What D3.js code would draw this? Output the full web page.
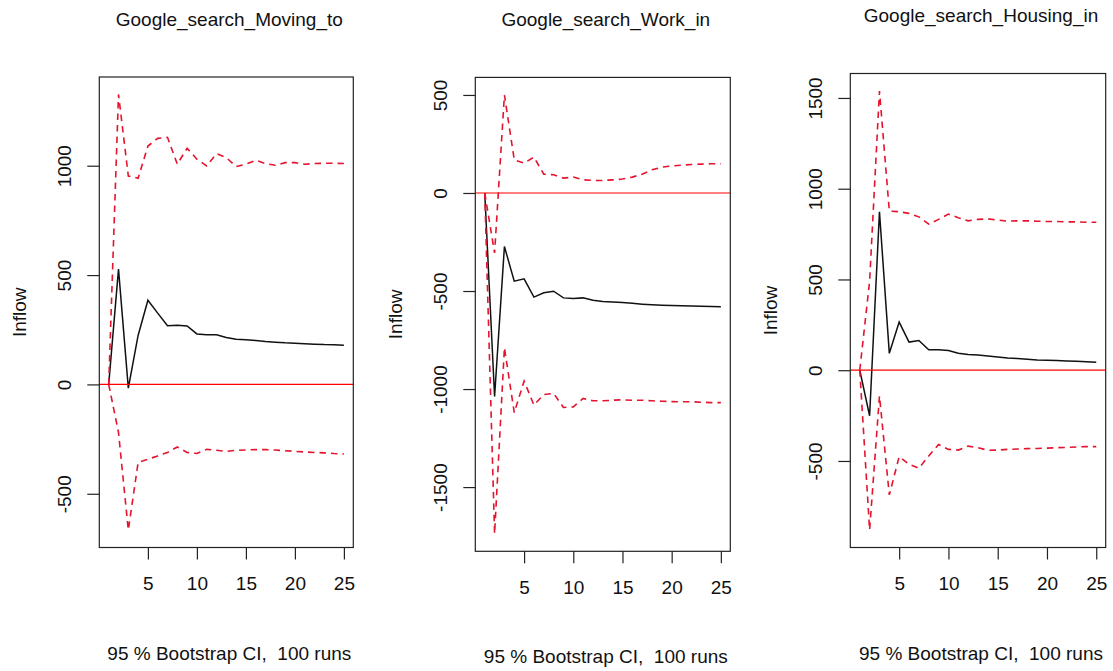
<!DOCTYPE html>
<html>
<head>
<meta charset="utf-8">
<script src="https://cdn.jsdelivr.net/npm/d3@7"></script>
<style>
  body { margin: 0; background: #fff; }
  text { font-family: "Liberation Sans", Arial, sans-serif; fill: #111; }
</style>
</head>
<body>
<div id="chart"></div>
<script>
// horizon steps (x axis)
const horizon = [1, 2, 3, 4, 5, 6, 7, 8, 9, 10, 11, 12, 13, 14, 15, 16, 17, 18, 19, 20, 21, 22, 23, 24, 25];
const xTicks = [5, 10, 15, 20, 25];

const titles = ["Google_search_Moving_to", "Google_search_Work_in", "Google_search_Housing_in"];
const footer = "95 % Bootstrap CI,  100 runs";
const yLabel = "Inflow";

// Moving_to
const movingIrf = [0, 527, -17, 224, 385, 326, 268, 270, 267, 231, 227, 227, 215, 207, 204, 201, 196, 193, 190, 188, 186, 184, 182, 181, 179];
const movingUpper = [0, 1326, 953, 943, 1090, 1125, 1130, 1007, 1080, 1030, 999, 1055, 1037, 996, 1007, 1025, 1010, 1002, 1014, 1014, 1007, 1010, 1011, 1011, 1010];
const movingLower = [0, -220, -666, -357, -342, -327, -311, -286, -311, -316, -297, -301, -306, -301, -300, -298, -298, -300, -303, -306, -309, -311, -313, -316, -318];
const movingTicks = [-500, 0, 500, 1000];

// Work_in
const workIrf = [0, -1038, -273, -450, -438, -531, -509, -501, -535, -538, -535, -547, -553, -556, -559, -563, -567, -570, -572, -574, -575, -577, -578, -579, -580];
const workUpper = [0, -306, 500, 169, 152, 183, 96, 93, 76, 81, 67, 64, 64, 67, 71, 81, 96, 118, 132, 138, 142, 145, 147, 149, 149];
const workLower = [0, -1738, -789, -1120, -959, -1082, -1028, -1022, -1094, -1091, -1048, -1060, -1060, -1057, -1055, -1057, -1057, -1060, -1062, -1064, -1065, -1065, -1067, -1069, -1069];
const workTicks = [-1500, -1000, -500, 0, 500];

// Housing_in
const housingIrf = [0, -251, 873, 93, 265, 155, 164, 113, 113, 109, 93, 87, 84, 78, 73, 67, 64, 60, 56, 55, 53, 51, 49, 47, 44];
const housingUpper = [0, 490, 1538, 877, 873, 864, 845, 805, 831, 860, 840, 823, 831, 834, 827, 821, 823, 823, 821, 819, 819, 817, 817, 815, 815];
const housingLower = [0, -880, -142, -687, -476, -518, -540, -472, -409, -436, -440, -418, -427, -441, -440, -436, -434, -432, -431, -429, -427, -425, -423, -421, -421];
const housingTicks = [-500, 0, 500, 1000, 1500];

// plot boxes of the three panels
const panels = [
  { title: titles[0], irf: movingIrf, upper: movingUpper, lower: movingLower, yTicks: movingTicks,
    left: 99.3, right: 353.3, top: 77, bottom: 547.5 },
  { title: titles[1], irf: workIrf, upper: workUpper, lower: workLower, yTicks: workTicks,
    left: 475.3, right: 730.3, top: 77.4, bottom: 551.3 },
  { title: titles[2], irf: housingIrf, upper: housingUpper, lower: housingLower, yTicks: housingTicks,
    left: 850.3, right: 1105.7, top: 73.5, bottom: 547.5 }
];

const fontSize = 19;
const ciColor = "#e4142e";

// R style 4% axis extension
const pad = ([a, b]) => [a - (b - a) * 0.04, b + (b - a) * 0.04];

const svg = d3.select("#chart").append("svg")
  .attr("width", 1113)
  .attr("height", 671);

function drawPanel(p) {
  const x = d3.scaleLinear().domain(pad(d3.extent(horizon))).range([p.left, p.right]);
  const y = d3.scaleLinear()
    .domain(pad(d3.extent(p.irf.concat(p.upper, p.lower))))
    .range([p.bottom, p.top]);

  const g = svg.append("g");

  const line = d3.line()
    .x((d, i) => x(horizon[i]))
    .y((d) => y(d));

  // impulse response
  g.append("path")
    .attr("d", line(p.irf))
    .attr("fill", "none")
    .attr("stroke", "#111")
    .attr("stroke-width", 1.5);

  // bootstrap bands
  [p.upper, p.lower].forEach((s) => {
    g.append("path")
      .attr("d", line(s))
      .attr("fill", "none")
      .attr("stroke", ciColor)
      .attr("stroke-width", 1.6)
      .attr("stroke-dasharray", "6.5,5");
  });

  // zero line
  g.append("line")
    .attr("x1", p.left).attr("x2", p.right)
    .attr("y1", y(0)).attr("y2", y(0))
    .attr("stroke", "red")
    .attr("stroke-width", 1.2);

  // box
  g.append("rect")
    .attr("x", p.left).attr("y", p.top)
    .attr("width", p.right - p.left)
    .attr("height", p.bottom - p.top)
    .attr("fill", "none")
    .attr("stroke", "#222")
    .attr("stroke-width", 1.2);

  // x axis
  const xa = g.append("g")
    .attr("transform", `translate(0,${p.bottom})`)
    .call(d3.axisBottom(x).tickValues(xTicks).tickSize(12).tickFormat((d) => String(d)));
  xa.select(".domain").remove();
  xa.selectAll("line").attr("stroke", "#222").attr("stroke-width", 1.2);
  xa.selectAll("text")
    .attr("y", 36)
    .attr("dy", "0.35em")
    .style("font-size", fontSize + "px")
    .style("font-family", '"Liberation Sans", Arial, sans-serif')
    .attr("fill", "#111");

  // y axis, labels parallel to the axis
  const ya = g.append("g")
    .attr("transform", `translate(${p.left},0)`)
    .call(d3.axisLeft(y).tickValues(p.yTicks).tickSize(12).tickFormat((d) => String(d)));
  ya.select(".domain").remove();
  ya.selectAll("line").attr("stroke", "#222").attr("stroke-width", 1.2);
  ya.selectAll("text")
    .attr("x", 0)
    .attr("dy", "0.35em")
    .attr("text-anchor", "middle")
    .attr("transform", "translate(-35,0) rotate(-90)")
    .style("font-size", fontSize + "px")
    .style("font-family", '"Liberation Sans", Arial, sans-serif')
    .attr("fill", "#111");

  const cx = (p.left + p.right) / 2 + 3;

  g.append("text")
    .attr("x", cx)
    .attr("y", p.top - 58)
    .attr("dy", "0.35em")
    .attr("text-anchor", "middle")
    .style("font-size", fontSize + "px")
    .text(p.title);

  // keep the double space of the R caption
  g.append("text")
    .attr("x", cx)
    .attr("y", p.bottom + 105.5)
    .attr("dy", "0.35em")
    .attr("text-anchor", "middle")
    .style("font-size", fontSize + "px")
    .style("white-space", "pre")
    .text(footer);

  g.append("text")
    .attr("transform", `translate(${p.left - 80},${(p.top + p.bottom) / 2}) rotate(-90)`)
    .attr("dy", "0.35em")
    .attr("text-anchor", "middle")
    .style("font-size", fontSize + "px")
    .text(yLabel);
}

panels.forEach(drawPanel);
</script>
</body>
</html>
